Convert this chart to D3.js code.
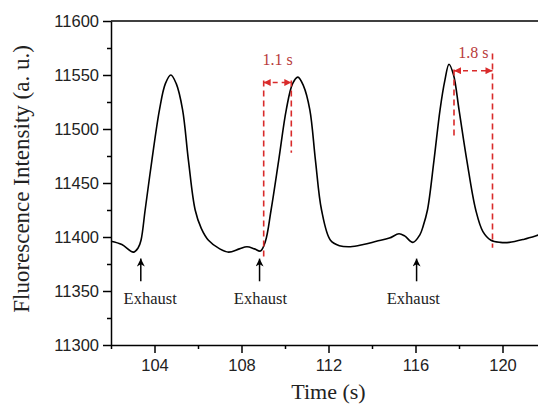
<!DOCTYPE html>
<html>
<head>
<meta charset="utf-8">
<script src="https://cdn.jsdelivr.net/npm/d3@7"></script>
<style>
  body { margin: 0; background: #fff; }
  svg { display: block; }
</style>
</head>
<body>
<div id="chart"></div>
<script>
// curve: time (s) and intensity (a. u.)
const time = [102.0, 102.5, 103.03, 103.25, 103.38, 103.57, 103.88, 104.23, 104.5, 104.75, 105.0, 105.29, 105.56, 105.87, 106.15, 106.48, 107.0, 107.41, 107.9, 108.25, 108.6, 108.87, 109.1, 109.36, 109.71, 110.06, 110.35, 110.59, 110.85, 111.14, 111.4, 111.68, 112.09, 112.5, 113.01, 113.6, 114.2, 114.8, 115.24, 115.5, 115.88, 116.2, 116.35, 116.55, 116.85, 117.13, 117.35, 117.54, 117.75, 118.0, 118.36, 118.77, 119.1, 119.47, 119.9, 120.31, 121.0, 121.68, 122.0];
const intensity = [11396, 11393, 11386, 11390, 11397, 11425, 11471, 11518, 11542, 11550, 11542, 11518, 11471, 11425, 11408, 11397, 11389, 11386, 11389, 11391, 11389, 11387, 11396, 11425, 11471, 11518, 11542, 11548, 11540, 11518, 11471, 11425, 11397, 11392, 11391, 11393, 11396, 11399, 11403, 11401, 11395, 11402, 11410, 11425, 11471, 11518, 11545, 11560, 11550, 11518, 11471, 11425, 11405, 11397, 11395, 11395, 11398, 11402, 11404];

const xTicks = [104, 108, 112, 116, 120];
const xMinor = [102, 106, 110, 114, 118, 122];
const yTicks = [11300, 11350, 11400, 11450, 11500, 11550, 11600];
const yMinor = [11325, 11375, 11425, 11475, 11525, 11575];

// exhaust arrows: x position, tip and tail value, label x
const exhaustTime = [103.37, 108.83, 116.05];
const exhaustLabelTime = [103.8, 108.87, 115.9];
const exhaustTip = 11380;
const exhaustTail = 11359;

// delay markers: left line, right line, their extents, arrow level, label
const delayLabels = ["1.1 s", "1.8 s"];
const delayLeft = [109.02, 117.77];
const delayRight = [110.29, 119.54];
const delayLeftSpan = [[11545, 11381], [11555, 11492]];
const delayRightSpan = [[11545, 11478], [11570, 11390]];
const delayArrow = [11543, 11554];
const delayLabelLevel = [11559, 11566];

const width = 538, height = 405;
const serif = "'Liberation Serif', 'Times New Roman', serif";
const sans = "'Liberation Sans', Arial, sans-serif";
const red = "#d92b2b";

const svg = d3.select("#chart")
  .append("svg")
  .attr("width", width)
  .attr("height", height);

let x = d3.scaleLinear()
  .domain([102, 122])
  .range([111, 546]);
let y = d3.scaleLinear()
  .domain([11300, 11600])
  .range([345, 21]);

svg.append("defs").append("marker")
  .attr("id", "redhead")
  .attr("viewBox", "0 0 10 10")
  .attr("refX", 10)
  .attr("refY", 5)
  .attr("markerUnits", "userSpaceOnUse")
  .attr("markerWidth", 8)
  .attr("markerHeight", 7)
  .attr("orient", "auto-start-reverse")
  .append("path")
  .attr("d", "M0,0 L10,5 L0,10 z")
  .attr("fill", red);

svg.select("defs").append("marker")
  .attr("id", "blackhead")
  .attr("viewBox", "0 0 10 10")
  .attr("refX", 10)
  .attr("refY", 5)
  .attr("markerUnits", "userSpaceOnUse")
  .attr("markerWidth", 8)
  .attr("markerHeight", 8)
  .attr("orient", "auto")
  .append("path")
  .attr("d", "M0,0 L10,5 L0,10 L3,5 z")
  .attr("fill", "#000");

// frame top
svg.append("line")
  .attr("x1", x(102)).attr("x2", x(122))
  .attr("y1", y(11600)).attr("y2", y(11600))
  .attr("stroke", "#000")
  .attr("stroke-width", 1.5);

// x axis
svg.append("g")
  .attr("transform", `translate(0,${y(11300)})`)
  .call(d3.axisBottom(x).tickValues(xTicks).tickSize(8).tickPadding(6).tickSizeOuter(0).tickFormat(d3.format("d")));
svg.append("g")
  .attr("transform", `translate(0,${y(11300)})`)
  .call(d3.axisBottom(x).tickValues(xMinor).tickSize(4).tickFormat("").tickSizeOuter(0))
  .select(".domain").remove();

// y axis
svg.append("g")
  .attr("transform", `translate(${x(102)},0)`)
  .call(d3.axisLeft(y).tickValues(yTicks).tickSize(8).tickPadding(4).tickSizeOuter(0).tickFormat(d3.format("d")));
svg.append("g")
  .attr("transform", `translate(${x(102)},0)`)
  .call(d3.axisLeft(y).tickValues(yMinor).tickSize(4).tickFormat("").tickSizeOuter(0))
  .select(".domain").remove();

svg.selectAll(".domain, .tick line")
  .attr("stroke", "#000")
  .attr("stroke-width", 1.5);
svg.selectAll(".tick text")
  .attr("font-family", sans)
  .attr("font-size", 16.5)
  .attr("fill", "#222");

svg.append("text")
  .attr("x", x(112))
  .attr("y", 399)
  .attr("text-anchor", "middle")
  .attr("font-family", serif)
  .attr("font-size", 22)
  .attr("fill", "#222")
  .text("Time (s)");

svg.append("text")
  .attr("transform", `translate(29,${(21 + 345) / 2 - 4}) rotate(-90)`)
  .attr("text-anchor", "middle")
  .attr("font-family", serif)
  .attr("font-size", 23)
  .attr("fill", "#222")
  .text("Fluorescence Intensity (a. u.)");

// curve
let points = time.map((t, i) => ({ t: t, v: intensity[i] }));
let line = d3.line()
  .x(d => x(d.t))
  .y(d => y(d.v))
  .curve(d3.curveCatmullRom.alpha(0.5));

svg.append("path")
  .datum(points)
  .attr("d", line)
  .attr("fill", "none")
  .attr("stroke", "#000")
  .attr("stroke-width", 1.6);

// exhaust arrows
for (let i = 0; i < exhaustTime.length; i++) {
  svg.append("line")
    .attr("x1", x(exhaustTime[i]))
    .attr("x2", x(exhaustTime[i]))
    .attr("y1", y(exhaustTail))
    .attr("y2", y(exhaustTip))
    .attr("stroke", "#000")
    .attr("stroke-width", 1.5)
    .attr("marker-end", "url(#blackhead)");

  svg.append("text")
    .attr("x", x(exhaustLabelTime[i]))
    .attr("y", 304)
    .attr("text-anchor", "middle")
    .attr("font-family", serif)
    .attr("font-size", 16.5)
    .attr("fill", "#222")
    .text("Exhaust");
}

// delay markers
for (let i = 0; i < delayLabels.length; i++) {
  svg.append("line")
    .attr("x1", x(delayLeft[i])).attr("x2", x(delayLeft[i]))
    .attr("y1", y(delayLeftSpan[i][0])).attr("y2", y(delayLeftSpan[i][1]))
    .attr("stroke", red)
    .attr("stroke-width", 1.6)
    .attr("stroke-dasharray", "6,4");

  svg.append("line")
    .attr("x1", x(delayRight[i])).attr("x2", x(delayRight[i]))
    .attr("y1", y(delayRightSpan[i][0])).attr("y2", y(delayRightSpan[i][1]))
    .attr("stroke", red)
    .attr("stroke-width", 1.6)
    .attr("stroke-dasharray", "6,4");

  svg.append("line")
    .attr("x1", x(delayLeft[i])).attr("x2", x(delayRight[i]))
    .attr("y1", y(delayArrow[i])).attr("y2", y(delayArrow[i]))
    .attr("stroke", red)
    .attr("stroke-width", 1.6)
    .attr("stroke-dasharray", "5,4")
    .attr("marker-start", "url(#redhead)")
    .attr("marker-end", "url(#redhead)");

  svg.append("text")
    .attr("x", (x(delayLeft[i]) + x(delayRight[i])) / 2)
    .attr("y", y(delayLabelLevel[i]))
    .attr("text-anchor", "middle")
    .attr("font-family", serif)
    .attr("font-size", 16)
    .attr("fill", "#b83a3a")
    .text(delayLabels[i]);
}
</script>
</body>
</html>
